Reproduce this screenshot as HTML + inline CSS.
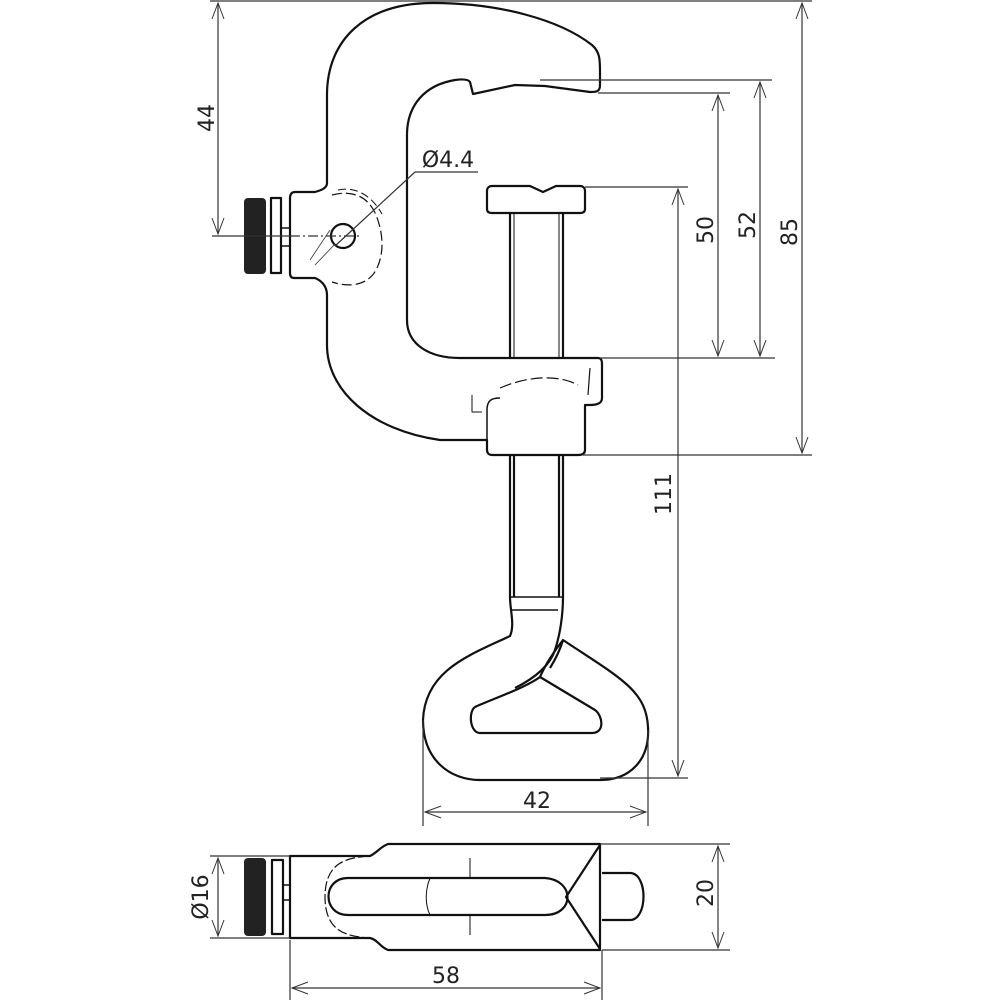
<!DOCTYPE html>
<html><head><meta charset="utf-8"><style>
html,body{margin:0;padding:0;background:#fff;}
svg{display:block;}
text{font-family:"DejaVu Sans","Liberation Sans",sans-serif;font-size:22px;fill:#222;}
</style></head><body>
<svg width="1000" height="1000" viewBox="0 0 1000 1000" xmlns="http://www.w3.org/2000/svg">
<defs>
<marker id="a" viewBox="0 0 20 20" refX="18" refY="10" markerWidth="20" markerHeight="20" orient="auto-start-reverse" markerUnits="userSpaceOnUse">
<path d="M2 4 L18 10 L2 16" fill="none" stroke="#333" stroke-width="1"/>
</marker>
</defs>
<g fill="none" stroke="#111" stroke-width="2.2" stroke-linejoin="round">
<path d="M327 183 L327 95 C327 40 365 3 433 3 C500 3 560 20 592 45 C600 52 600 60 600 72 L600 85 C600 92 596 92 590 92 L545 86 L515 85 L473 94 L470 82 C468 79 462 79 455 80 C425 85 407 105 407 135 L407 320 C407 345 430 358 460 358 L598 358 C602 358 602 362 602 365 L602 398 C602 403 598 405 590 405 L585 405 L585 450 C585 454 582 455 578 455 L492 455 C489 455 487 453 487 450 L487 440 C475 440 460 440 440 440 C370 430 327 390 327 345 L327 295 C327 285 320 280 315 278 L294 278 C291 278 290 276 290 273 L290 198 C290 194 292 192 295 192 L315 192 C322 190 327 188 327 183 Z"/>
<path d="M487 440 L487 410 C487 400 492 398 500 398" stroke-width="1.5"/>
<path d="M332 195 C350 190 368 195 376 215 C384 235 384 255 376 270 C368 285 350 288 332 282" stroke-width="1.2" stroke-dasharray="10 4"/>
<path d="M338 190 C356 186 372 196 382 214" stroke-width="1" stroke-dasharray="8 4"/>
<circle cx="343" cy="236" r="12"/>
<path d="M492 186 L530 186 L543 192 L556 186 L580 186 C583 186 585 188 585 191 L585 209 C585 212 583 213 580 213 L492 213 C489 213 487 212 487 209 L487 191 C487 188 489 186 492 186 Z"/>
<path d="M510 213 L510 358 M563 213 L563 358" />
<path d="M514 213 L514 358 M559 213 L559 358" stroke-width="1"/>
<path d="M500 388 C530 375 560 375 578 385" stroke-width="1.2" stroke-dasharray="12 4"/>
<path d="M590 368 L588 395" stroke-width="1.2"/>
<path d="M472 395 L472 412 L482 412" stroke-width="1"/>
<path d="M510 455 L510 597 M563 455 L563 597 M514 455 L514 597 M559 455 L559 597" />
<path d="M510 597 L563 597 M512 610 L558 610" stroke-width="1.5"/>
<path d="M510 597 C510 610 515 625 510 636 C470 655 425 670 423 720 C423 760 450 780 480 780 L600 780 C630 780 650 760 648 727 C646 690 620 678 563 640 C560 650 555 660 550 668"/>
<path d="M563 597 C563 615 560 635 555 650 C550 665 535 678 515 688"/>
<path d="M540 677 C525 688 490 700 475 707 C468 712 470 733 480 733 L592 733 C605 733 603 716 595 710 L540 677 Z"/>
<path d="M563 640 C555 650 545 665 540 677"/>
<path d="M290 856 L370 856 C378 852 380 847 388 844 L600 844 L600 950 L388 950 C380 947 378 940 370 938 L290 938 Z"/>
<path d="M348 878 L545 878 C575 880 575 915 545 915 L348 915 C322 915 322 878 348 878 Z"/>
<path d="M368 856 C350 858 325 860 325 897 C325 934 350 936 368 938" stroke-width="1.2" stroke-dasharray="10 3"/>
<path d="M430 878 C425 890 425 905 430 915 M470 858 L470 877 M470 916 L470 935" stroke-width="1"/>
<path d="M600 845 L566 897 L600 949"/>
<path d="M602 873 L630 873 C648 873 648 920 630 920 L602 920"/>
<rect x="271" y="198" width="10" height="75"/>
<rect x="281" y="228" width="9" height="18" stroke-width="1.5"/>
<rect x="272" y="860" width="11" height="74"/>
<rect x="283" y="885" width="7" height="15" stroke-width="1.5"/>
</g>
<rect x="244" y="198" width="22" height="76" rx="4" fill="#222"/>
<rect x="244" y="858" width="22" height="78" rx="4" fill="#222"/>
<g fill="none" stroke="#333" stroke-width="1.2">
<path d="M210 1 L812 1"/>
<path d="M540 80 L772 80 M598 93 L730 93 M585 187 L688 187 M600 358 L775 358 M583 455 L812 455 M600 778 L688 778"/>
<path d="M212 236 L290 236"/>
<path d="M290 236 L360 236" stroke-dasharray="10 3 2 3"/>
<path d="M218 3 L218 234" marker-start="url(#a)" marker-end="url(#a)"/>
<path d="M678 189 L678 776" marker-start="url(#a)" marker-end="url(#a)"/>
<path d="M718 95 L718 356" marker-start="url(#a)" marker-end="url(#a)"/>
<path d="M760 82 L760 356" marker-start="url(#a)" marker-end="url(#a)"/>
<path d="M802 3 L802 453" marker-start="url(#a)" marker-end="url(#a)"/>
<path d="M423 720 L423 826 M648 730 L648 826"/>
<path d="M425 812 L646 812" marker-start="url(#a)" marker-end="url(#a)"/>
<path d="M415 172 L478 172 M415 172 L335 246"/>
<path d="M330 230 L310 260 M335 244 L315 265" stroke-width="0.8"/>
<path d="M600 844 L730 844 M602 950 L730 950"/>
<path d="M718 846 L718 948" marker-start="url(#a)" marker-end="url(#a)"/>
<path d="M210 856 L290 856 M210 938 L290 938"/>
<path d="M218 858 L218 936" marker-start="url(#a)" marker-end="url(#a)"/>
<path d="M290 940 L290 1000 M602 950 L602 1000"/>
<path d="M292 988 L600 988" marker-start="url(#a)" marker-end="url(#a)"/>
</g>
<text x="0" y="0" transform="translate(214,118) rotate(-90)" text-anchor="middle">44</text>
<text x="0" y="0" transform="translate(713,230) rotate(-90)" text-anchor="middle">50</text>
<text x="0" y="0" transform="translate(755,225) rotate(-90)" text-anchor="middle">52</text>
<text x="0" y="0" transform="translate(797,232) rotate(-90)" text-anchor="middle">85</text>
<text x="0" y="0" transform="translate(671,494) rotate(-90)" text-anchor="middle">111</text>
<text x="0" y="0" transform="translate(713,893) rotate(-90)" text-anchor="middle">20</text>
<text x="0" y="0" transform="translate(208,897) rotate(-90)" text-anchor="middle">Ø16</text>
<text x="537" y="808" text-anchor="middle">42</text>
<text x="446" y="983" text-anchor="middle">58</text>
<text x="448" y="167" text-anchor="middle">Ø4.4</text>
</svg>
</body></html>
